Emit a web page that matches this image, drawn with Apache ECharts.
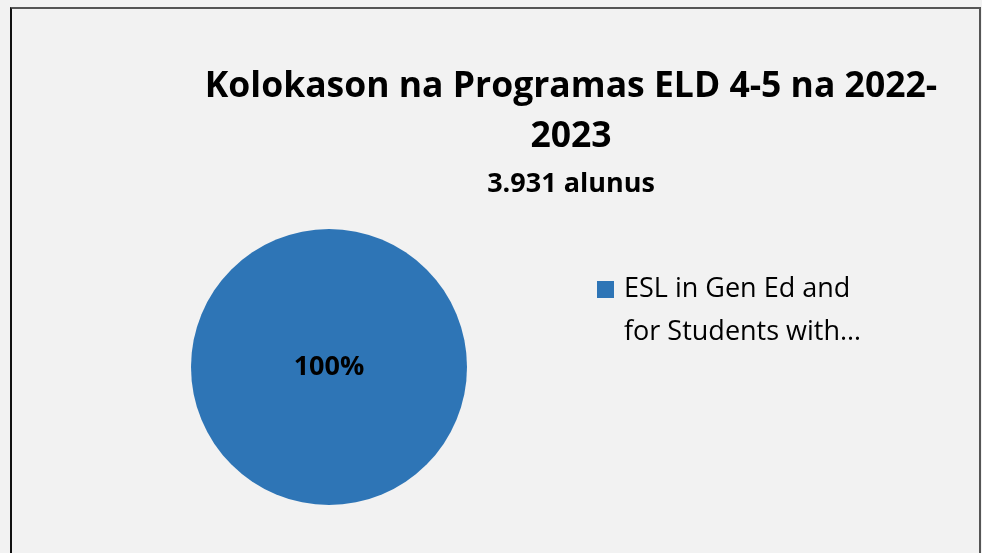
<!DOCTYPE html>
<html>
<head>
    <meta charset="utf-8">
    <title>Kolokason na Programas ELD 4-5</title>
    <script src="https://cdn.jsdelivr.net/npm/echarts@6/dist/echarts.min.js"></script>
    <style>
        html, body { margin: 0; padding: 0; background: #f2f2f2; }
        #frame {
            position: absolute; left: 10px; top: 7px; width: 967px; height: 560px;
            border-top: 2px solid #555; border-left: 2px solid #111; border-right: 2px solid #555;
        }
        #chart { position: absolute; left: 0; top: 0; width: 982px; height: 553px; }
    </style>
</head>
<body>
    <div id="frame"></div>
    <div id="chart"></div>
    <script type="text/javascript">
        // 数据
        var categories = ['ESL in Gen Ed and for Students with Disabilities'];
        var values = [3931];
        var legendLines = [['ESL in Gen Ed and', 'for Students with…']];
        var colors = ['#2e75b6'];

        var chart = echarts.init(document.getElementById('chart'));
        var font = 'Open Sans';
        var option = {
            backgroundColor: 'transparent',
            color: colors,
            title: [
                {
                    text: 'Kolokason na Programas ELD 4-5 na 2022-\n2023',
                    left: 566, top: 57, textAlign: 'center',
                    textStyle: { fontFamily: font, fontSize: 35.5, fontWeight: 'bold', color: '#000', lineHeight: 50 }
                },
                {
                    text: '3.931 alunus',
                    left: 566, top: 166, textAlign: 'center',
                    textStyle: { fontFamily: font, fontSize: 27, fontWeight: 'bold', color: '#000' }
                }
            ],
            legend: {
                left: 587, top: 263,
                orient: 'vertical',
                icon: 'none',
                itemWidth: 0, itemHeight: 0, itemGap: 10,
                formatter: function (name) {
                    var l = legendLines[categories.indexOf(name)];
                    // 图例方块放在第一行
                    return '{m|}{g|}{t|' + l[0] + '}\n{i|}{t|' + l[1] + '}';
                },
                textStyle: {
                    fontFamily: font, fontSize: 27, color: '#000', lineHeight: 43,
                    rich: {
                        m: { width: 17, height: 17, backgroundColor: colors[0] },
                        g: { width: 10 },
                        i: { width: 27 },
                        t: { fontFamily: font, fontSize: 27, color: '#000', lineHeight: 43 }
                    }
                }
            },
            series: [
                {
                    type: 'pie',
                    center: [329, 367],
                    radius: 138,
                    startAngle: 90,
                    label: {
                        position: 'center',
                        formatter: '{d}%',
                        fontFamily: font, fontSize: 27, fontWeight: 'bold', color: '#000'
                    },
                    labelLine: { show: false },
                    emphasis: { disabled: true },
                    data: categories.map(function (c, i) { return { name: c, value: values[i] }; })
                }
            ]
        };
        chart.setOption(option);
    </script>
</body>
</html>
